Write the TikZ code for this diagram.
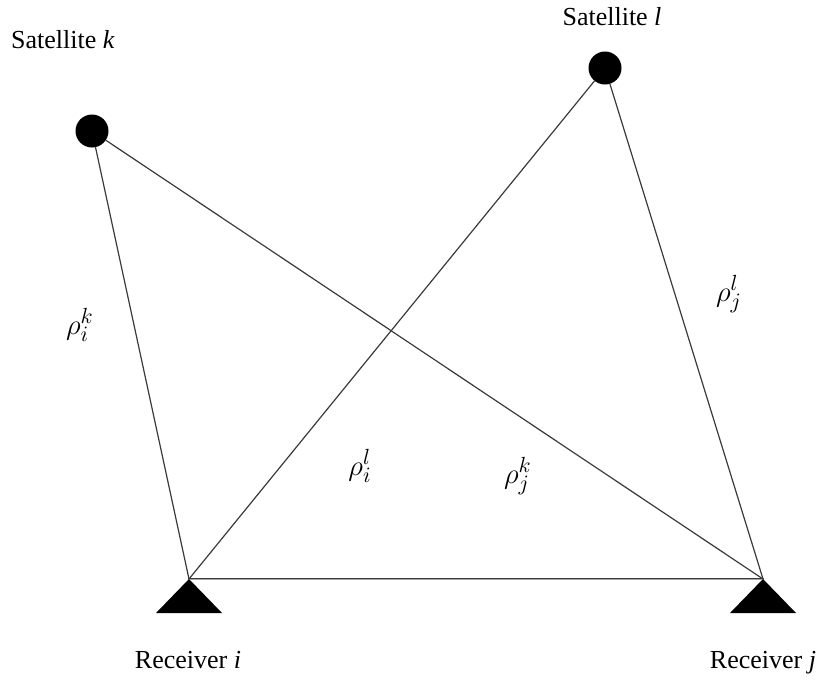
\documentclass[tikz,border=0pt]{standalone}
\usepackage{fontspec}
\setmainfont{Liberation Serif}
\usetikzlibrary{calc}
\definecolor{rayline}{HTML}{3A3A3A}

\tikzset{
  sat/.style={circle,fill=black,inner sep=0pt,minimum size=16.5pt},
  ray/.style={rayline,line width=0.6pt},
  lbl/.style={anchor=base,font=\fontsize{13}{15}\selectfont},
  rho/.style={font=\fontsize{15}{17}\selectfont}
}

\begin{document}
\begin{tikzpicture}[x=0.5pt,y=-0.5pt,line cap=round,line join=round]
  \useasboundingbox (0,0) rectangle (819,682);
  \def\tw{33}
  \def\th{34}

  % Receiver apexes (the rays meet here).
  \coordinate (reci) at (189,579);
  \coordinate (recj) at (763,579);

  % Satellites.
  \node[sat] (satk) at (92,131) {};
  \node[sat] (satl) at (605,68) {};

  % Rays from the satellites down to the receivers.
  \draw[ray] (satk) -- (reci);
  \draw[ray] (satk) -- (recj);
  \draw[ray] (satl) -- (reci);
  \draw[ray] (satl) -- (recj);
  % Baseline between the receivers.
  \draw[rayline,line width=0.45pt,double=black!35,double distance=0.5pt] (reci) -- (recj);

  % Receiver antennas.
  \fill (reci) -- ++(-\tw,\th) -- ++(2*\tw,0) -- cycle;
  \fill (recj) -- ++(-\tw,\th) -- ++(2*\tw,0) -- cycle;

  % Labels.
  \node[lbl] (labk) at (63,48) {Satellite \textit{k}};
  \node[lbl] (labl) at (612,25) {Satellite \textit{l}};
  \node[lbl] (labi) at (188,668) {Receiver \textit{i}};
  \node[lbl] (labj) at (763,668) {Receiver \textit{j}};

  \node[rho] (rik) at (80,325) {$\rho_i^k$};
  \node[rho] (rjl) at (729,294) {$\rho_j^l$};
  \node[rho] (ril) at (360,466) {$\rho_i^l$};
  \node[rho] (rjk) at (518,476) {$\rho_j^k$};
\end{tikzpicture}
\end{document}
